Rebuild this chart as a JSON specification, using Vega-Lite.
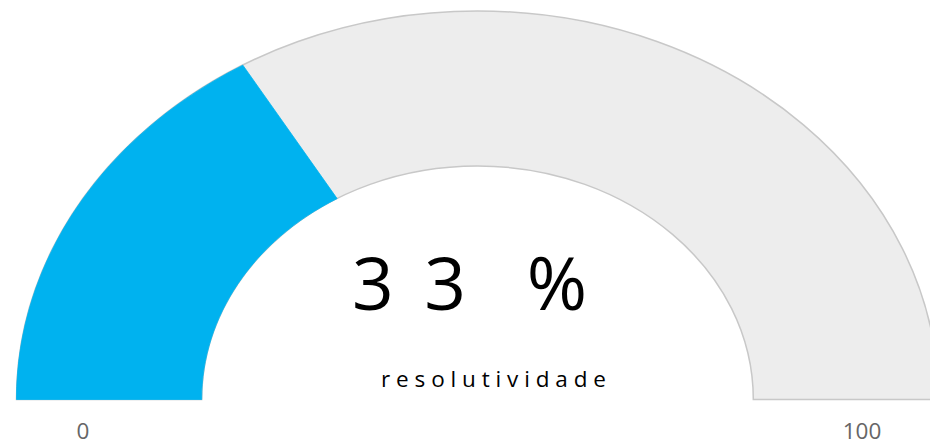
{
  "$schema": "https://vega.github.io/schema/vega-lite/v6.json",
  "width": 930,
  "height": 446,
  "autosize": {"type": "none"},
  "padding": 0,
  "background": "#ffffff",
  "config": {"view": {"stroke": null}},
  "data": {"values": [{"metric": "resolutividade", "value": 33, "min": 0, "max": 100, "display": "3\u2005\u20063\u2002\u2004%", "label": "r e s o l u t i v i d a d e"}]},
  "layer": [
    {
      "mark": {"type": "point", "shape": "M -1 0 A 1 0.8427 0 0 1 1 0 L 0.5983 0 A 0.5983 0.5065 0 0 0 -0.5983 0 Z", "size": 850084, "filled": true, "fill": "#ededed", "stroke": "#c8c8c8", "strokeWidth": 1.5, "opacity": 1, "fillOpacity": 1, "strokeOpacity": 1},
      "encoding": {
        "x": {"datum": 50, "type": "quantitative", "scale": {"domain": [-1.79, 99.08], "nice": false, "zero": false}, "axis": null},
        "y": {"datum": 0, "type": "quantitative", "scale": {"domain": [-5.04, 43.33], "nice": false, "zero": false}, "axis": null}
      }
    },
    {
      "mark": {"type": "point", "shape": "M -1 0 A 1 0.8427 0 0 1 -0.509 -0.7253 L -0.3045 -0.4359 A 0.5983 0.5065 0 0 0 -0.5983 0 Z", "size": 850084, "filled": true, "fill": "#00b2ef", "stroke": "#00b2ef", "strokeWidth": 0.8, "opacity": 1, "fillOpacity": 1},
      "encoding": {
        "x": {"datum": 50, "type": "quantitative"},
        "y": {"datum": 0, "type": "quantitative"}
      }
    },
    {
      "mark": {"type": "text", "font": "Open Sans", "fontSize": 73, "color": "#000000", "align": "center", "baseline": "alphabetic", "dx": -8, "dy": -89.5},
      "encoding": {
        "x": {"datum": 50, "type": "quantitative"},
        "y": {"datum": 0, "type": "quantitative"},
        "text": {"field": "display"}
      }
    },
    {
      "mark": {"type": "text", "font": "Open Sans", "fontSize": 22.5, "color": "#000000", "align": "center", "baseline": "alphabetic", "dx": 16, "dy": -12.8},
      "encoding": {
        "x": {"datum": 50, "type": "quantitative"},
        "y": {"datum": 0, "type": "quantitative"},
        "text": {"field": "label"}
      }
    },
    {
      "mark": {"type": "text", "font": "Open Sans", "fontSize": 22.5, "color": "#666666", "align": "center", "baseline": "alphabetic", "dx": 66.5, "dy": 39.5},
      "encoding": {
        "x": {"field": "min", "type": "quantitative"},
        "y": {"datum": 0, "type": "quantitative"},
        "text": {"field": "min", "type": "quantitative"}
      }
    },
    {
      "mark": {"type": "text", "font": "Open Sans", "fontSize": 22.5, "color": "#666666", "align": "center", "baseline": "alphabetic", "dx": -76.5, "dy": 39.5},
      "encoding": {
        "x": {"field": "max", "type": "quantitative"},
        "y": {"datum": 0, "type": "quantitative"},
        "text": {"field": "max", "type": "quantitative"}
      }
    }
  ]
}
